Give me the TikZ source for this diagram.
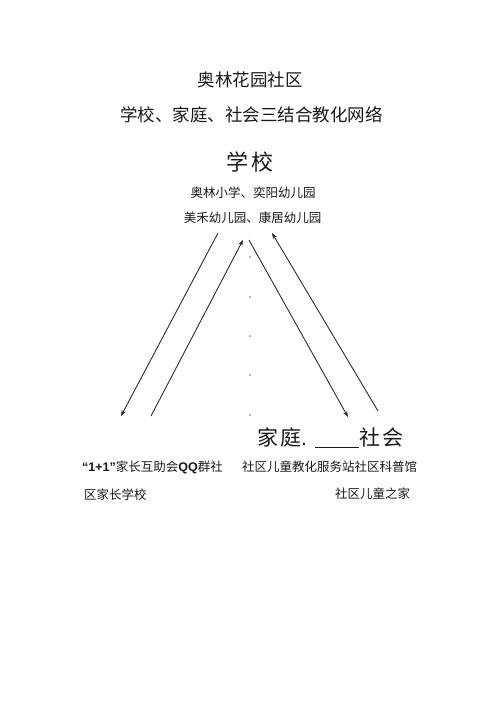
\documentclass[tikz,border=0pt]{standalone}
\usepackage{fontspec}
\setmainfont{Liberation Sans}
\newfontfamily\cjk{Noto Sans CJK SC}
\definecolor{linegray}{RGB}{45, 45, 45}
\definecolor{dotgray}{RGB}{140, 140, 140}
\definecolor{textgray}{RGB}{25, 25, 25}
\usetikzlibrary{arrows.meta, positioning}

\begin{document}
\begin{tikzpicture}[x=1pt, y=-1pt,
  flow/.style={draw=linegray, line width=0.9pt, -{Stealth[length=6pt, width=4.5pt]}},
  txt/.style={inner sep=0pt, text=textgray}]
  \useasboundingbox (0,0) rectangle (500,707);

  % Titles
  \node[txt, font=\cjk\fontsize{17.5}{20}\selectfont] (title) at (250,79.5) {奥林花园社区};
  \node[txt, font=\cjk\fontsize{17.5}{20}\selectfont] (subtitle) at (251.5,114.5) {学校、家庭、社会三结合教化网络};

  % School
  \node[txt, font=\cjk\fontsize{22}{24}\selectfont] (school) at (250,162) {学\hspace{4pt}校};
  \node[txt, font=\cjk\fontsize{12.5}{14}\selectfont] (school1) at (253,192.5) {奥林小学、奕阳幼儿园};
  \node[txt, font=\cjk\fontsize{12.5}{14}\selectfont] (school2) at (252.5,218) {美禾幼儿园、康居幼儿园};

  % Family and community
  \node[txt, anchor=west, font=\fontsize{21}{24}\selectfont] (family) at (257,438)
    {{\cjk 家\hspace{2pt}庭}.\hspace{8pt}\underline{\hspace{44pt}}{\cjk 社\hspace{2pt}会}};
  \node[txt, anchor=west, font=\cjk\fontsize{12.5}{14}\selectfont] (family1) at (82,467.5)
    {{\fontspec{Liberation Sans}\bfseries “1+1”}家长互助会{\fontspec{Liberation Sans}\bfseries QQ}群社};
  \node[txt, anchor=west, font=\cjk\fontsize{12.5}{14}\selectfont] (family2) at (84,495) {区家长学校};
  \node[txt, anchor=west, font=\cjk\fontsize{12.5}{14}\selectfont] (society1) at (242,467) {社区儿童教化服务站社区科普馆};
  \node[txt, anchor=west, font=\cjk\fontsize{12.5}{14}\selectfont] (society2) at (335,494) {社区儿童之家};

  % Arrow ends
  \coordinate (sfA) at (218,233);
  \coordinate (sfB) at (121,416);
  \coordinate (fsA) at (151,416);
  \coordinate (fsB) at (243,240);
  \coordinate (scA) at (249,240);
  \coordinate (scB) at (348,417);
  \coordinate (csA) at (378,411);
  \coordinate (csB) at (272,233);

  \draw[flow] (sfA) -- (sfB);
  \draw[flow] (fsA) -- (fsB);
  \draw[flow] (scA) -- (scB);
  \draw[flow] (csA) -- (csB);

  % Dotted middle
  \foreach \y in {257, 297, 336, 375, 415}
    \fill[dotgray] (250,\y) circle (1pt);
\end{tikzpicture}
\end{document}
